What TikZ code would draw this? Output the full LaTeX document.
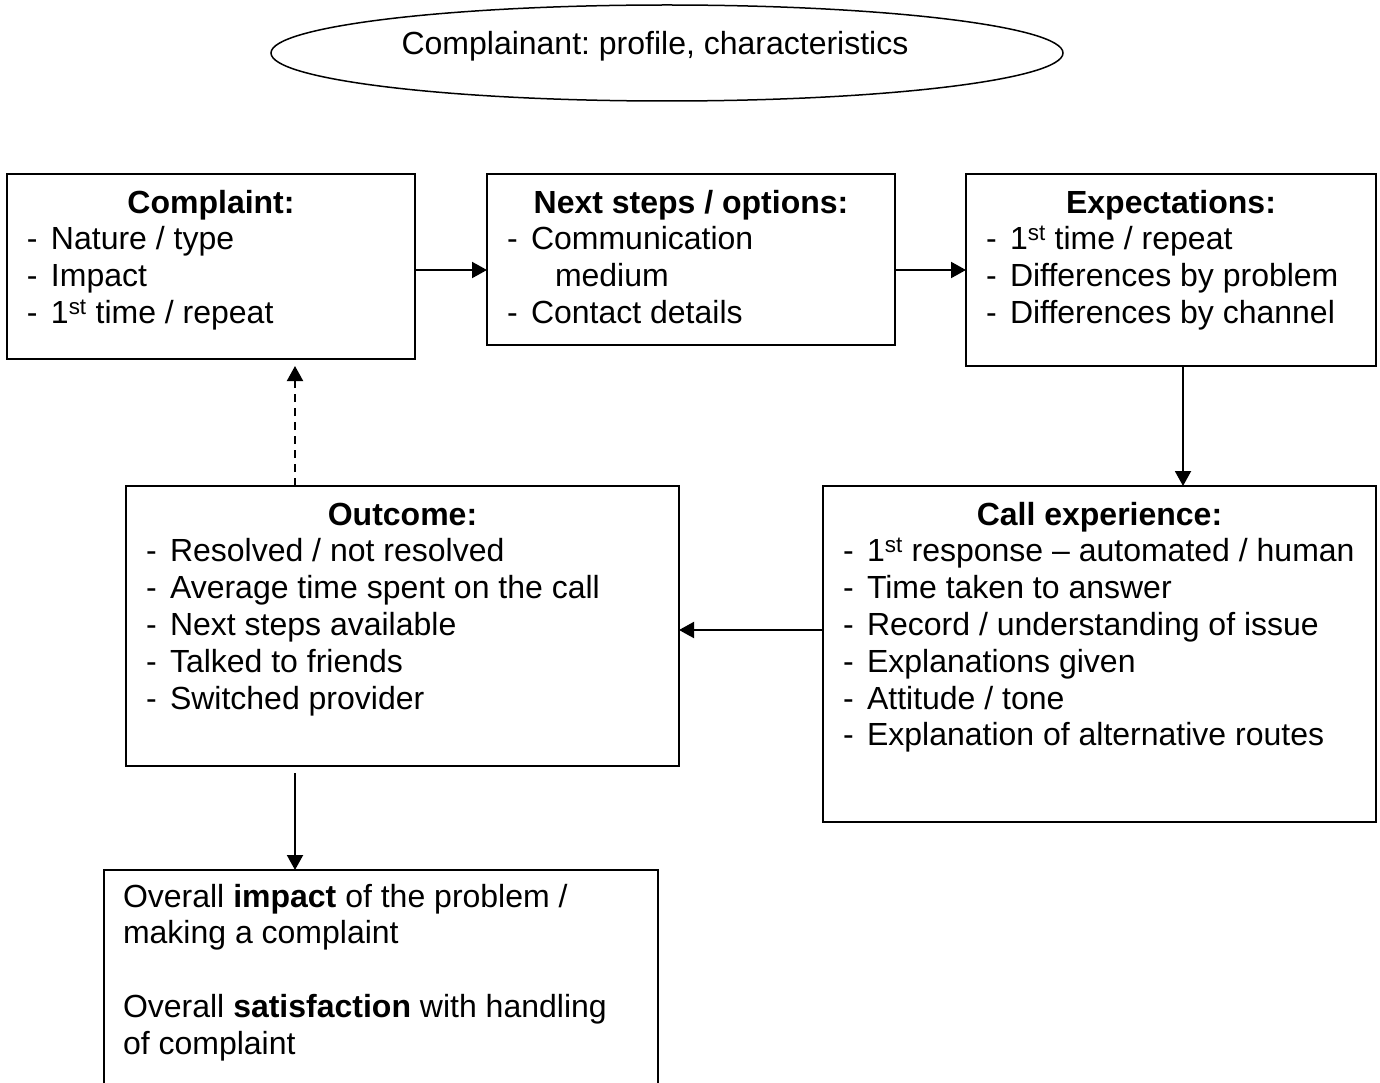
\documentclass[tikz,border=0pt]{standalone}
\usepackage{fontspec}
\setmainfont{Liberation Sans}
\usetikzlibrary{arrows.meta,shapes.geometric}
\frenchspacing
\newcommand\boxtxt[3]{\parbox[c][#2][t]{#1}{\raggedright #3}}
\newcommand\ttl[1]{{\centering\rule{0pt}{39pt}\textbf{#1}\par}}
\newcommand\itm[1]{\hspace*{20pt}\makebox[24pt][l]{-}#1\par}
\newcommand\fst{1\textsuperscript{st}}
\tikzset{
  flowbox/.style={draw, line width=2pt, inner sep=0pt, outer sep=0pt, anchor=north west},
  arr/.style={line width=2pt, -{Triangle[length=15pt,width=16pt]}},
  dashline/.style={dash pattern=on 8pt off 6pt},
  every node/.style={font=\fontsize{32}{36.8}\selectfont}
}
\begin{document}
\begin{tikzpicture}[x=1pt,y=-1pt]
\useasboundingbox (0,0) rectangle (1380,1083);
\clip (0,0) rectangle (1380,1083);

\node[draw, ellipse, line width=1.5pt, minimum width=792pt, minimum height=96pt, inner sep=0pt, outer sep=0pt] (prof) at (667,53)
  {\raisebox{-2pt}[0pt][0pt]{\frenchspacing Complainant: profile, characteristics\hspace*{24pt}}};

\node[flowbox] (comp) at (7,174) {\boxtxt{408pt}{185pt}{%
  \ttl{Complaint:}\itm{Nature / type}\itm{Impact}\itm{\fst{} time / repeat}}};

\node[flowbox] (next) at (487,174) {\boxtxt{408pt}{171pt}{%
  \ttl{Next steps / options:}\itm{Communication}\hspace*{68pt}medium\par\itm{Contact details}}};

\node[flowbox] (expect) at (966,174) {\boxtxt{410pt}{192pt}{%
  \ttl{Expectations:}\itm{\fst{} time / repeat}\itm{Differences by problem}\itm{Differences by channel}}};

\node[flowbox] (call) at (823,486) {\boxtxt{553pt}{336pt}{%
  \ttl{Call experience:}\itm{\fst{} response – automated / human}\itm{Time taken to answer}%
  \itm{Record / understanding of issue}\itm{Explanations given}\itm{Attitude / tone}%
  \itm{Explanation of alternative routes}}};

\node[flowbox] (outc) at (126,486) {\boxtxt{553pt}{280pt}{%
  \ttl{Outcome:}\itm{Resolved / not resolved}\itm{Average time spent on the call}%
  \itm{Next steps available}\itm{Talked to friends}\itm{Switched provider}}};

\node[flowbox] (overall) at (104,870) {\boxtxt{554pt}{240pt}{%
  \leftskip=19pt\rule{0pt}{37pt}Overall \textbf{impact} of the problem /\\
  making a complaint\\[36.8pt]
  Overall \textbf{satisfaction} with handling\\
  of complaint}};

\draw[arr] (comp.east |- 0,270) -- (next.west |- 0,270);
\draw[arr] (next.east |- 0,270) -- (expect.west |- 0,270);
\draw[arr] (expect.south -| 1183,0) -- (call.north -| 1183,0);
\draw[arr] (call.west |- 0,630) -- (outc.east |- 0,630);
\draw[arr, shorten <=7pt] (outc.south -| 295,0) -- (overall.north -| 295,0);
\draw[arr, dashline, shorten >=7pt] (outc.north -| 295,0) -- (comp.south -| 295,0);
\end{tikzpicture}
\end{document}
